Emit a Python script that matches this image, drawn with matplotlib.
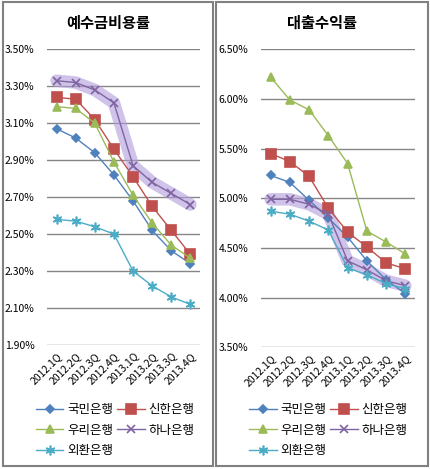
import matplotlib
matplotlib.use("Agg")
import matplotlib.pyplot as plt
from matplotlib.patches import Rectangle

plt.rcParams['font.family'] = ['Noto Sans CJK KR', 'DejaVu Sans']

quarters = ['2012.1Q', '2012.2Q', '2012.3Q', '2012.4Q',
            '2013.1Q', '2013.2Q', '2013.3Q', '2013.4Q']
banks = ['국민은행', '신한은행', '우리은행', '하나은행', '외환은행']

# 예수금비용률 (%)
dep_kookmin = [3.07, 3.02, 2.94, 2.82, 2.68, 2.52, 2.41, 2.34]
dep_shinhan = [3.24, 3.23, 3.12, 2.96, 2.81, 2.65, 2.52, 2.39]
dep_woori = [3.19, 3.18, 3.10, 2.89, 2.71, 2.56, 2.44, 2.37]
dep_hana = [3.33, 3.32, 3.28, 3.21, 2.87, 2.78, 2.72, 2.66]
dep_keb = [2.58, 2.57, 2.54, 2.50, 2.30, 2.22, 2.16, 2.12]

# 대출수익률 (%)
loan_kookmin = [5.23, 5.16, 4.98, 4.80, 4.61, 4.37, 4.18, 4.04]
loan_shinhan = [5.45, 5.37, 5.22, 4.90, 4.66, 4.51, 4.35, 4.29]
loan_woori = [6.22, 5.99, 5.89, 5.63, 5.35, 4.67, 4.56, 4.44]
loan_hana = [4.99, 4.99, 4.94, 4.84, 4.37, 4.28, 4.17, 4.12]
loan_keb = [4.87, 4.84, 4.77, 4.68, 4.30, 4.23, 4.14, 4.09]

colors = ['#4F81BD', '#C0504D', '#9BBB59', '#8064A2', '#4BACC6']
markers = ['D', 's', '^', 'x', (6, 2, 0)]
msizes = [4, 6.5, 6, 6, 7]

W, H = 431, 469
fig = plt.figure(figsize=(W / 100, H / 100), dpi=100)


def px_axes(x0, x1, ytop, ybot):
    return fig.add_axes([x0 / W, 1 - ybot / H, (x1 - x0) / W, (ybot - ytop) / H])


def draw_panel(ax, series, title, yticks, ylim, panel):
    px0, px1 = panel
    fig.patches.append(Rectangle((px0 / W, 3 / H), (px1 - px0) / W, (H - 5) / H,
                                 transform=fig.transFigure, fill=False,
                                 edgecolor='#808080', linewidth=1.5))
    x = list(range(len(quarters)))
    handles = []
    for i, vals in enumerate(series):
        if i == 3:
            # glow behind 하나은행
            ax.plot(x, vals, color='#B29BDC', alpha=0.6, linewidth=9,
                    solid_capstyle='round', solid_joinstyle='round', zorder=2)
        h, = ax.plot(x, vals, color=colors[i], linewidth=1, marker=markers[i],
                     markersize=msizes[i], markeredgecolor=colors[i],
                     markeredgewidth=1.2, zorder=3 + i * 0.1, label=banks[i])
        handles.append(h)
    ax.set_xlim(-0.5, len(quarters) - 0.5)
    ax.set_ylim(*ylim)
    ax.set_yticks(yticks)
    ax.set_yticklabels([f'{v:.2f}%' for v in yticks], fontsize=7.5)
    ax.set_xticks(x)
    ax.set_xticklabels(quarters, rotation=45, ha='right', va='top',
                       rotation_mode='anchor', fontsize=7.5)
    ax.tick_params(length=0, pad=9)
    ax.tick_params(axis='x', pad=4)
    ax.grid(axis='y', color='#868686', linewidth=1)
    ax.set_axisbelow(True)
    for s in ax.spines.values():
        s.set_visible(False)
    fig.text((px0 + px1) / 2 / W, 1 - 23 / H, title, ha='center', va='center',
             fontsize=11, fontweight='bold')
    order = [0, 2, 4, 1, 3]
    ax.legend([handles[k] for k in order], [banks[k] for k in order],
              ncol=2, loc='upper left', frameon=False, fontsize=9,
              bbox_to_anchor=((px0 + 33) / W, 1 - 403 / H),
              bbox_transform=fig.transFigure, handlelength=2.2,
              handletextpad=0.3, columnspacing=0.3, labelspacing=0.6,
              borderpad=0, borderaxespad=0)


ax1 = px_axes(47, 200, 49.3, 345)
draw_panel(ax1, [dep_kookmin, dep_shinhan, dep_woori, dep_hana, dep_keb],
           '예수금비용률', [1.9, 2.1, 2.3, 2.5, 2.7, 2.9, 3.1, 3.3, 3.5],
           (1.9, 3.5), (3, 213))

ax2 = px_axes(261, 415, 49.3, 347.3)
draw_panel(ax2, [loan_kookmin, loan_shinhan, loan_woori, loan_hana, loan_keb],
           '대출수익률', [3.5, 4.0, 4.5, 5.0, 5.5, 6.0, 6.5],
           (3.5, 6.5), (216, 428))

fig.savefig('out.png', dpi=100)
